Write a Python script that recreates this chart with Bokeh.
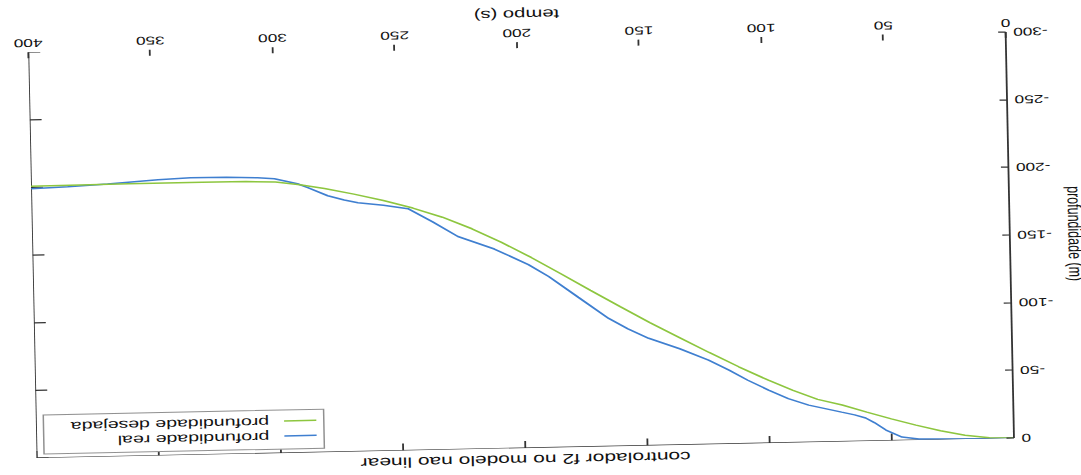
from bokeh.plotting import figure
from bokeh.models import Range1d, FixedTicker, Legend, LegendItem
from bokeh.embed import file_html
from bokeh.resources import INLINE

# ---- data ----
tempo_desejada = [0, 10, 20, 30, 40, 50, 60, 70, 80, 90, 100, 112, 124, 136, 148, 160, 172,
                  184, 196, 208, 220, 232, 244, 256, 268, 280, 290, 300, 312, 330, 360, 400]
prof_desejada = [0, -0.6, -2.8, -6.5, -11.0, -16.0, -21.3, -27.0, -31.5, -38.5, -46.4, -56.8,
                 -67.8, -79.3, -90.8, -103.0, -115.5, -128.2, -140.7, -152.3, -162.8, -171.8,
                 -179.0, -185.0, -190.2, -194.8, -198.0, -200.3, -201.1, -201.3, -201.3, -201.0]

tempo_real = [0, 20, 38.9, 45.8, 52.3, 57, 60.5, 65, 70.3, 83.7, 92, 100, 108.4, 116, 124.3,
              136, 148.6, 157, 164.8, 177, 189, 197.2, 211, 225.8, 236, 246, 256, 266.4, 272,
              278.7, 286.8, 291, 300.4, 307.3, 320, 334.7, 348, 368.7, 385, 400]
prof_real = [0, 0, -0.7, -2.4, -7.8, -13.5, -17.0, -19.5, -21.7, -27.4, -32.5, -39.1, -46.7,
             -54.5, -62.1, -71.0, -79.2, -86.5, -94.5, -110.5, -126.4, -135.5, -147.5, -157.3,
             -168.5, -178.6, -181.5, -183.8, -186.0, -189.4, -195.7, -198.7, -202.7, -203.8,
             -204.6, -204.8, -203.8, -201.4, -200.0, -199.0]

x_ticks = [0, 50, 100, 150, 200, 250, 300, 350, 400]
x_tick_labels = ["0", "50", "100", "150", "200", "250", "300", "350", "400"]
y_ticks = [-300, -250, -200, -150, -100, -50, 0]
y_tick_labels = ["-300", "-250", "-200", "-150", "-100", "-50", "0"]
x_limits = [0, 400]
y_limits = [-300, 0]

title_text = "controlador f2 no modelo nao linear"
x_label = "tempo (s)"
y_label = "profundidade (m)"
legend_labels = ["profundidade real", "profundidade desejada"]

# ---- styling ----
FONT = "Liberation Sans"
AX = "#333333"
TXT = "#111111"
BLUE = "#3f7fd0"
GREEN = "#8dc63f"
S = 1081 / 721    # horizontal stretch of the scanned page
ANGLE = 178.82    # the scan is upside down and a little tilted

# Bokeh sizes the canvas from the element's transformed bounding box,
# so the nominal size is chosen such that that box is about 721 x 475.
p = figure(width=475, height=460, sizing_mode="fixed",
           x_range=Range1d(*x_limits), y_range=Range1d(*y_limits),
           output_backend="svg", toolbar_location=None,
           min_border_left=53, min_border_right=16, min_border_top=28, min_border_bottom=40,
           background_fill_color="white", border_fill_color="white", outline_line_color=None)

p.title.text = title_text
p.title.align = "center"
p.title.text_font = FONT
p.title.text_font_size = "14px"
p.title.text_font_style = "normal"
p.title.text_color = TXT
p.title.standoff = 8

p.xgrid.visible = False
p.ygrid.visible = False


def base_style(ax, tick_in):
    ax.major_tick_in = tick_in
    ax.major_tick_out = 0
    ax.minor_tick_line_color = None
    ax.axis_line_color = AX
    ax.axis_line_width = 1.2
    ax.major_tick_line_color = AX
    ax.major_tick_line_width = 1.2
    ax.major_label_text_font = FONT
    ax.major_label_text_font_size = "11.5px"
    ax.major_label_text_color = TXT
    ax.axis_label_text_font = FONT
    ax.axis_label_text_font_style = "normal"
    ax.axis_label_text_color = TXT


xa = p.xaxis[0]
base_style(xa, 6)
xa.ticker = FixedTicker(ticks=x_ticks)
xa.major_label_overrides = dict(zip(x_ticks, x_tick_labels))
xa.axis_line_color = None
xa.major_label_standoff = 5
xa.axis_label = x_label
xa.axis_label_text_font_size = "13.5px"
xa.axis_label_standoff = 4

ya = p.yaxis[0]
base_style(ya, 5)
ya.ticker = FixedTicker(ticks=y_ticks)
ya.major_label_overrides = dict(zip(y_ticks, y_tick_labels))
ya.major_label_standoff = 5
ya.axis_label = y_label
ya.axis_label_text_font_size = "12.5px"
ya.axis_label_standoff = 5

# box edges (upper and right side of the axes box) with inward ticks
n_x, n_y = len(x_ticks), len(y_ticks)
p.segment(x0=[x_limits[0]], y0=[y_limits[1]], x1=[x_limits[1]], y1=[y_limits[1]],
          line_color=AX, line_width=1.2)
p.segment(x0=[x_limits[1]], y0=[y_limits[0]], x1=[x_limits[1]], y1=[y_limits[1]],
          line_color=AX, line_width=1.2)
p.segment(x0=x_ticks, y0=[y_limits[1]] * n_x, x1=x_ticks, y1=[y_limits[1] - 5.2] * n_x,
          line_color=AX, line_width=1.2)
p.segment(x0=[x_limits[1]] * n_y, y0=y_ticks, x1=[x_limits[1] - 4.9] * n_y, y1=y_ticks,
          line_color=AX, line_width=1.2)

r_real = p.line(tempo_real, prof_real, line_color=BLUE, line_width=1.5)
r_des = p.line(tempo_desejada, prof_desejada, line_color=GREEN, line_width=1.5)

legend = Legend(items=[LegendItem(label=legend_labels[0], renderers=[r_real]),
                       LegendItem(label=legend_labels[1], renderers=[r_des])],
                location="top_right", margin=4, padding=4, spacing=0,
                glyph_width=22, glyph_height=12, label_height=12, label_width=146,
                label_standoff=10, label_text_font=FONT, label_text_font_size="13px",
                label_text_color=TXT, border_line_color="#222222", border_line_width=1,
                background_fill_color="white", background_fill_alpha=1)
p.add_layout(legend)

p.styles = {
    "transform": f"translate(189px, 1px) rotate({ANGLE}deg) scale({S:.5f}, 1)",
    "transform-origin": "360.5px 237.5px",
}

open("out.html", "w").write(file_html(p, INLINE, title="controlador f2"))
